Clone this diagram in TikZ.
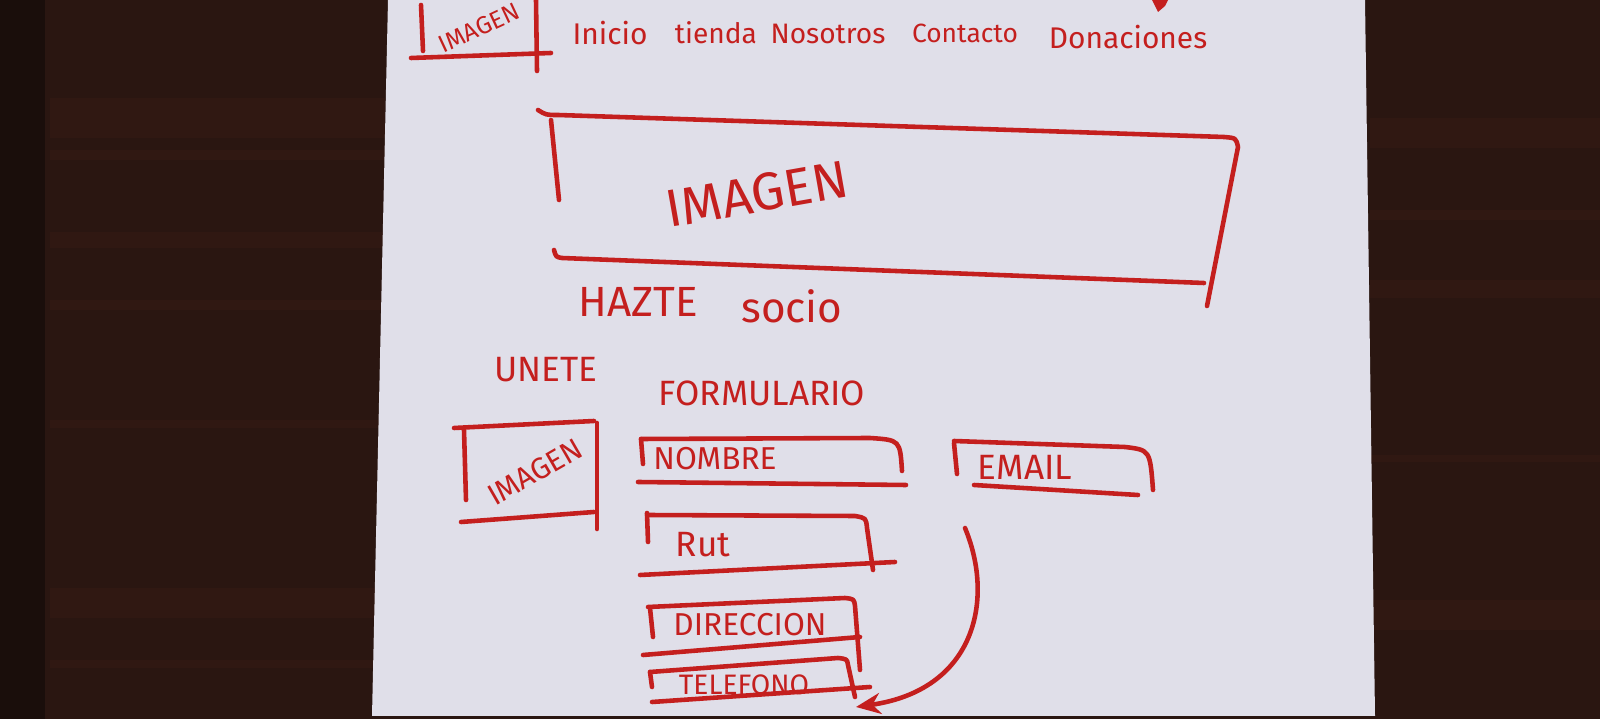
\documentclass[tikz,border=0pt]{standalone}
\usepackage{fontspec}
\usetikzlibrary{arrows.meta}
\newfontfamily\hand{Fira Sans}
\definecolor{wood}{HTML}{2A1611}
\definecolor{wooddark}{HTML}{1A0E0B}
\definecolor{woodgrain}{HTML}{5A2B1C}
\definecolor{paper}{HTML}{E0DFE9}
\definecolor{ink}{HTML}{C41F1E}
\tikzset{
  pen/.style={draw=ink,line width=1.3pt,line cap=round,line join=round},
  lbl/.style={text=ink,inner sep=0pt},
  grain/.style={fill=woodgrain,opacity=0.13}
}
\newcommand{\fs}[1]{\hand\fontsize{#1}{#1}\selectfont}
\begin{document}
\begin{tikzpicture}[x=0.01cm,y=-0.01cm]
\useasboundingbox (0,0) rectangle (1600,719);
% table top with faint grain
\fill[wood] (0,0) rectangle (1600,719);
\fill[wooddark] (0,0) rectangle (45,719);
\foreach \ya/\yb in {98/138, 150/160, 232/248, 300/310, 420/428, 588/618, 660/668}
  \fill[grain] (50,\ya) rectangle (385,\yb);
\foreach \ya/\yb in {118/148, 210/220, 280/298, 455/462, 600/630}
  \fill[grain] (1370,\ya) rectangle (1600,\yb);
% sheet of paper
\fill[paper] (388,0) -- (1365,0) -- (1375,716) -- (372,716) -- cycle;

% header: logo box and menu
\draw[pen] (421,5) -- (423,51);
\draw[pen] (411,58) -- (551,53);
\draw[pen] (536,0) -- (537,71);
\node[lbl,rotate=25,font=\fs{7}] (logo) at (479,28) {IMAGEN};
\node[lbl,font=\fs{8.5}] (inicio) at (610,33) {Inicio};
\node[lbl,font=\fs{8}] (tienda) at (716,33) {tienda};
\node[lbl,font=\fs{8}] (nosotros) at (828,34) {Nosotros};
\node[lbl,font=\fs{7.5}] (contacto) at (965,33) {Contacto};
\node[lbl,font=\fs{8.5}] (donaciones) at (1128,37) {Donaciones};
\fill[ink] (1152,0) -- (1168,0) -- (1165,6) -- (1158,12) -- cycle;

% banner image
\draw[pen] (538,110) .. controls (546,115) .. (558,115) -- (1224,137)
  .. controls (1236,138) .. (1238,147) -- (1207,306);
\draw[pen] (551,120) -- (559,200);
\draw[pen] (554,250) .. controls (556,257) .. (562,258) -- (1204,283);
\node[lbl,rotate=10,font=\fs{15}] (banner) at (757,194) {IMAGEN};

\node[lbl,font=\fs{12}] (hazte) at (638,302) {HAZTE};
\node[lbl,font=\fs{12}] (socio) at (792,306) {socio};

\node[lbl,font=\fs{10}] (unete) at (546,370) {UNETE};
\node[lbl,font=\fs{10}] (formulario) at (762,393) {FORMULARIO};

% side image
\draw[pen] (454,428) -- (594,421);
\draw[pen] (597,423) -- (597,529);
\draw[pen] (464,430) -- (466,500);
\draw[pen] (461,522) -- (594,512);
\node[lbl,rotate=30,font=\fs{8.5}] (sideimg) at (535,472) {IMAGEN};

% form fields
\draw[pen] (641,439) -- (870,438) .. controls (900,440) .. (902,471);
\draw[pen] (641,439) -- (643,464);
\draw[pen] (638,482) -- (906,485);
\node[lbl,font=\fs{9}] (nombre) at (715,459) {NOMBRE};

\draw[pen] (954,441) -- (1125,447) .. controls (1150,450) .. (1153,490);
\draw[pen] (954,443) -- (957,474);
\draw[pen] (974,485) -- (1138,495);
\node[lbl,font=\fs{10}] (email) at (1025,467) {EMAIL};

\draw[pen] (647,515) -- (855,516) .. controls (866,518) .. (867,528) -- (873,570);
\draw[pen] (647,513) -- (648,542);
\draw[pen] (640,575) -- (895,562);
\node[lbl,font=\fs{10}] (rut) at (703,545) {Rut};

\draw[pen] (648,607) -- (845,598) .. controls (854,599) .. (855,606) -- (860,670);
\draw[pen] (650,608) -- (653,637);
\draw[pen] (643,655) -- (860,637);
\node[lbl,font=\fs{9}] (direccion) at (750,625) {DIRECCION};

\draw[pen] (650,672) -- (838,658) .. controls (847,659) .. (848,665) -- (855,697);
\draw[pen] (650,672) -- (652,687);
\draw[pen] (652,702) -- (870,687);
\node[lbl,font=\fs{8}] (telefono) at (744,685) {TELEFONO};

% arrow from the email field down to the phone field
\coordinate (emailtail) at (965,528);
\coordinate (telhead) at (856,707);
\draw[pen,-{Stealth[length=7pt,width=6pt]}] (emailtail)
  .. controls (995,600) and (975,690) .. (telhead);
\end{tikzpicture}
\end{document}
